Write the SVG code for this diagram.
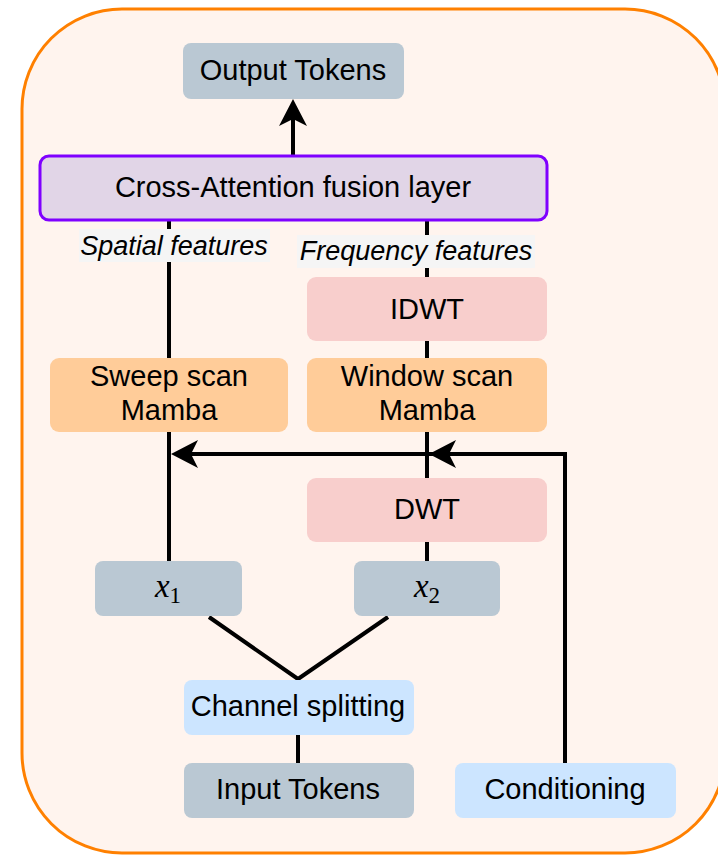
<svg xmlns="http://www.w3.org/2000/svg" width="718" height="855" viewBox="0 0 718 855">
<defs>
<style>
.t{font-family:"Liberation Sans",Arial,sans-serif;font-size:29px;fill:#000;text-anchor:middle}
.lbl{font-family:"Liberation Sans",Arial,sans-serif;font-size:27px;font-style:italic;fill:#000;text-anchor:middle}
.m{font-family:"Liberation Serif","Times New Roman",serif;font-size:33px;font-style:italic;fill:#000;text-anchor:middle}
.sub{font-style:normal;font-size:23px}
.gray{fill:#BAC8D3}
.blue{fill:#CCE5FF}
.red{fill:#F8CECC}
.orange{fill:#FFCC99}
.ln{fill:none;stroke:#000;stroke-width:4}
</style>
<marker id="arr" markerUnits="userSpaceOnUse" viewBox="-28 -15 30 30" markerWidth="30" markerHeight="30" refX="-20" refY="0" orient="auto">
<path d="M0,0 L-27,-14 L-20,0 L-27,14 Z" fill="#000"/>
</marker>
</defs>
<rect id="container" x="22" y="9" width="703" height="844" rx="100" ry="100" fill="#FFF4EE" stroke="#FF8000" stroke-width="3"/>
<g id="connectors">
<path class="ln" d="M169,221 V561"/>
<path class="ln" d="M427,221 V561"/>
<path class="ln" d="M293,155 V119" marker-end="url(#arr)"/>
<path class="ln" d="M565,763 V454 H191" marker-end="url(#arr)"/>
<path class="ln" d="M565,454 H449" marker-end="url(#arr)"/>
<path class="ln" d="M209,617 L298,679 L388,617"/>
<path class="ln" d="M298,735 V763"/>
</g>
<g id="output-tokens"><rect class="gray" x="183" y="43" width="221" height="56" rx="8"/><text class="t" x="293" y="80">Output Tokens</text></g>
<g id="cross-attention"><rect x="40" y="156" width="507" height="64" rx="9" fill="#E1D5E7" stroke="#7F00FF" stroke-width="3"/><text class="t" x="293" y="197">Cross-Attention fusion layer</text></g>
<g id="spatial-label"><rect x="79" y="229" width="191" height="33" fill="#F5F5F5"/><text class="lbl" x="174" y="255">Spatial features</text></g>
<g id="frequency-label"><rect x="297" y="235" width="238" height="33" fill="#F5F5F5"/><text class="lbl" x="416" y="260">Frequency features</text></g>
<g id="idwt"><rect class="red" x="307" y="277" width="240" height="64" rx="9"/><text class="t" x="427" y="319">IDWT</text></g>
<g id="sweep-mamba"><rect class="orange" x="50" y="358" width="238" height="74" rx="9"/><text class="t" x="169" y="386">Sweep scan</text><text class="t" x="169" y="420">Mamba</text></g>
<g id="window-mamba"><rect class="orange" x="307" y="358" width="240" height="74" rx="9"/><text class="t" x="427" y="386">Window scan</text><text class="t" x="427" y="420">Mamba</text></g>
<g id="dwt"><rect class="red" x="307" y="478" width="240" height="64" rx="9"/><text class="t" x="427" y="519">DWT</text></g>
<g id="x1"><rect class="gray" x="95" y="561" width="147" height="55" rx="8"/><text class="m" x="168" y="597">x<tspan class="sub" dy="6">1</tspan></text></g>
<g id="x2"><rect class="gray" x="354" y="561" width="146" height="55" rx="8"/><text class="m" x="427" y="597">x<tspan class="sub" dy="6">2</tspan></text></g>
<g id="channel-splitting"><rect class="blue" x="184" y="680" width="230" height="55" rx="8"/><text class="t" x="298" y="716">Channel splitting</text></g>
<g id="input-tokens"><rect class="gray" x="184" y="763" width="230" height="55" rx="8"/><text class="t" x="298" y="799">Input Tokens</text></g>
<g id="conditioning"><rect class="blue" x="455" y="763" width="221" height="55" rx="8"/><text class="t" x="565" y="799">Conditioning</text></g>
</svg>
